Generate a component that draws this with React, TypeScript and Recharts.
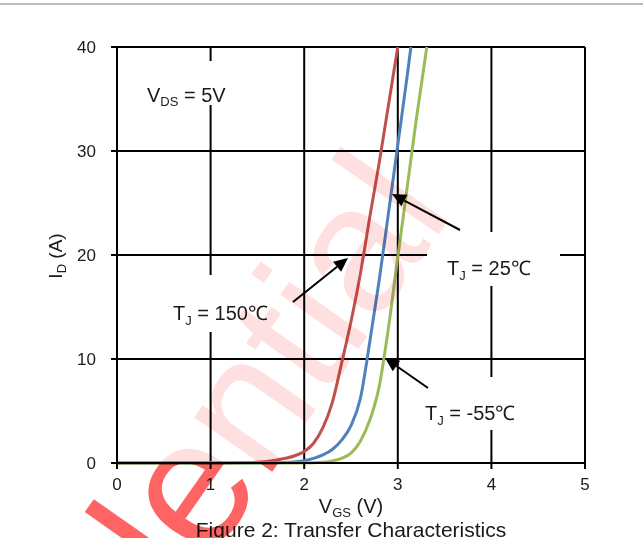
import React from 'react';
import { LineChart, Line, XAxis, YAxis, CartesianGrid } from 'recharts';

const vgsTicks = [0, 1, 2, 3, 4, 5];
const idTicks = [0, 10, 20, 30, 40];

const tj150 = [
  { vgs: 0, id: 0 }, { vgs: 1.0, id: 0 }, { vgs: 1.4, id: 0.05 }, { vgs: 1.6, id: 0.15 },
  { vgs: 1.8, id: 0.45 }, { vgs: 1.9, id: 0.7 }, { vgs: 2.0, id: 1.1 }, { vgs: 2.1, id: 1.9 },
  { vgs: 2.2, id: 3.4 }, { vgs: 2.3, id: 5.8 }, { vgs: 2.4, id: 9.6 }, { vgs: 2.5, id: 13.6 },
  { vgs: 2.6, id: 18.2 }, { vgs: 2.7, id: 23.6 }, { vgs: 2.8, id: 28.8 }, { vgs: 2.9, id: 34.4 },
  { vgs: 3.0, id: 40 },
];
const tj25 = [
  { vgs: 0, id: 0 }, { vgs: 1.5, id: 0 }, { vgs: 1.8, id: 0.05 }, { vgs: 2.0, id: 0.22 },
  { vgs: 2.1, id: 0.45 }, { vgs: 2.2, id: 0.78 }, { vgs: 2.3, id: 1.3 }, { vgs: 2.4, id: 2.2 },
  { vgs: 2.5, id: 3.6 }, { vgs: 2.6, id: 6.2 }, { vgs: 2.7, id: 11.6 }, { vgs: 2.8, id: 17.5 },
  { vgs: 2.9, id: 24 }, { vgs: 3.0, id: 30.6 }, { vgs: 3.1, id: 37.2 }, { vgs: 3.14, id: 40 },
];
const tjM55 = [
  { vgs: 0, id: 0 }, { vgs: 1.8, id: 0 }, { vgs: 2.1, id: 0.03 }, { vgs: 2.2, id: 0.08 },
  { vgs: 2.3, id: 0.2 }, { vgs: 2.4, id: 0.45 }, { vgs: 2.5, id: 0.95 }, { vgs: 2.6, id: 2.1 },
  { vgs: 2.7, id: 4.1 }, { vgs: 2.8, id: 7.3 }, { vgs: 2.9, id: 13.0 }, { vgs: 3.0, id: 19.8 },
  { vgs: 3.1, id: 26.5 }, { vgs: 3.2, id: 33.2 }, { vgs: 3.31, id: 40 },
];

const W = 643;
const H = 538;
const PL = 117, PR = 585, PT = 47, PB = 463;
const FONT = "'Liberation Sans', Arial, sans-serif";
const TXT = '#1a1a1a';

function arrowHead(sx: number, sy: number, tx: number, ty: number) {
  const dx = tx - sx, dy = ty - sy;
  const len = Math.hypot(dx, dy);
  const ux = dx / len, uy = dy / len;
  const L = 14, w = 6.5;
  const bx = tx - ux * L, by = ty - uy * L;
  const nx = -uy, ny = ux;
  return {
    pts: `${tx},${ty} ${bx + nx * w},${by + ny * w} ${bx - nx * w},${by - ny * w}`,
    bx, by,
  };
}

const Arrow = ({ sx, sy, tx, ty }: { sx: number; sy: number; tx: number; ty: number }) => {
  const a = arrowHead(sx, sy, tx, ty);
  return (
    <g>
      <line x1={sx} y1={sy} x2={a.bx} y2={a.by} stroke="#000" strokeWidth={2} />
      <polygon points={a.pts} fill="#000" />
    </g>
  );
};

const TjLabel = ({ x, y, value }: { x: number; y: number; value: string }) => (
  <text x={x} y={y} fontSize={20} fontFamily={FONT} fill={TXT}>
    T<tspan fontSize={13} dy={5}>J</tspan>
    <tspan fontSize={20} dy={-5}>{` = ${value}℃`}</tspan>
  </text>
);

export default function App() {
  const wmTransform = 'translate(454.5,211.6) rotate(-55)';
  return (
    <div style={{ position: 'absolute', left: 0, top: 0, width: W, height: H, background: '#fff' }}>
      <div style={{ position: 'absolute', left: 0, top: 0 }}>
        <LineChart width={W} height={H} margin={{ top: PT, right: W - PR, left: 0, bottom: H - PB - 30 }}>
          <CartesianGrid stroke="#000" strokeWidth={2} />
          <XAxis
            type="number"
            dataKey="vgs"
            domain={[0, 5]}
            ticks={vgsTicks}
            interval={0}
            height={30}
            axisLine={{ stroke: '#000', strokeWidth: 2 }}
            tickLine={{ stroke: '#000', strokeWidth: 2 }}
            tickSize={6}
            tickMargin={9}
            tick={{ fontSize: 17, fill: TXT, fontFamily: FONT }}
          />
          <YAxis
            type="number"
            domain={[0, 40]}
            ticks={idTicks}
            interval={0}
            width={PL}
            axisLine={{ stroke: '#000', strokeWidth: 2 }}
            tickLine={{ stroke: '#000', strokeWidth: 2 }}
            tickSize={6}
            tickMargin={15}
            tick={{ fontSize: 17, fill: TXT, fontFamily: FONT }}
          />
          <Line data={tj150} dataKey="id" type="monotone" stroke="#c0504d" strokeWidth={3} dot={false} isAnimationActive={false} />
          <Line data={tj25} dataKey="id" type="monotone" stroke="#4f81bd" strokeWidth={3} dot={false} isAnimationActive={false} />
          <Line data={tjM55} dataKey="id" type="monotone" stroke="#9bbb59" strokeWidth={3} dot={false} isAnimationActive={false} />
        </LineChart>
      </div>
      <svg width={W} height={H} style={{ position: 'absolute', left: 0, top: 0, pointerEvents: 'none' }}>
        <line x1={0} y1={4} x2={W} y2={4} stroke="#a6a6a6" strokeWidth={1.5} />
        <rect x={140} y={61} width={95} height={44} fill="#fff" />
        <rect x={427} y={232} width={133} height={54} fill="#fff" />
        <rect x={160} y={275} width={125} height={57} fill="#fff" />
        <rect x={415} y={377} width={122} height={53} fill="#fff" />
        <text x={147} y={102} fontSize={20} fontFamily={FONT} fill={TXT}>
          V<tspan fontSize={13} dy={4}>DS</tspan>
          <tspan fontSize={20} dy={-4}>{' = 5V'}</tspan>
        </text>
        <TjLabel x={447} y={275} value="25" />
        <TjLabel x={173} y={320} value="150" />
        <TjLabel x={425} y={420} value="-55" />
        <Arrow sx={293} sy={302} tx={348} ty={258} />
        <Arrow sx={460} sy={230} tx={392} ty={194} />
        <Arrow sx={428} sy={388} tx={385} ty={358} />
        <text x={351} y={513} textAnchor="middle" fontSize={20} fontFamily={FONT} fill={TXT}>
          V<tspan fontSize={13} dy={4}>GS</tspan>
          <tspan fontSize={20} dy={-4}>{' (V)'}</tspan>
        </text>
        <text transform="translate(62,256) rotate(-90)" textAnchor="middle" fontSize={19} fontFamily={FONT} fill={TXT}>
          I<tspan fontSize={13} dy={4}>D</tspan>
          <tspan fontSize={19} dy={-4}>{' (A)'}</tspan>
        </text>
        <text x={351} y={537} textAnchor="middle" fontSize={21} fontFamily={FONT} fill={TXT}>
          Figure 2: Transfer Characteristics
        </text>
      </svg>
      <svg width={W} height={H} style={{ position: 'absolute', left: 0, top: 0, pointerEvents: 'none', mixBlendMode: 'multiply' }}>
        <defs>
          <clipPath id="wmPlotClip">
            <rect x={PL} y={PT} width={PR - PL} height={PB - PT} />
          </clipPath>
          <clipPath id="wmOuterClip">
            <rect x={0} y={0} width={PL} height={H} />
            <rect x={PR} y={0} width={W - PR} height={H} />
            <rect x={PL} y={0} width={PR - PL} height={PT} />
            <rect x={PL} y={PB} width={PR - PL} height={H - PB} />
          </clipPath>
        </defs>
        <g clipPath="url(#wmPlotClip)">
          <text transform={wmTransform} textAnchor="end" fontSize={180} fontFamily={FONT} fill="#ffe0e0">
            Confidential
          </text>
        </g>
        <g clipPath="url(#wmOuterClip)">
          <text transform={wmTransform} textAnchor="end" fontSize={180} fontFamily={FONT} fill="#ff6464">
            Confidential
          </text>
        </g>
      </svg>
    </div>
  );
}
